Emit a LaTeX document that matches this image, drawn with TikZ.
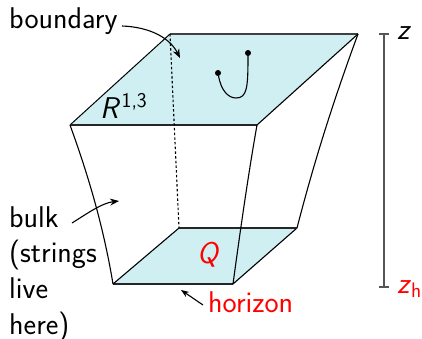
\documentclass[tikz,border=0pt]{standalone}
\usepackage{fontspec}
\usetikzlibrary{arrows.meta}
\definecolor{sheet}{HTML}{CFEFF2}
\definecolor{axisgray}{HTML}{555555}
\tikzset{
 edge/.style={black,line width=1.1pt},
 lbl/.style={inner sep=0pt,anchor=base west,font=\sffamily\fontsize{30}{36}\selectfont},
 redlbl/.style={lbl,red},
 pointer/.style={black,line width=1.1pt,-{Stealth[length=9pt,width=7pt]}},
 axisline/.style={axisgray,line width=1.5pt},
 endpt/.style={circle,fill=black,inner sep=0pt,minimum size=6pt},
}
\begin{document}
\begin{tikzpicture}[x=1pt,y=-1pt]
\useasboundingbox (0,0) rectangle (422,339);
\coordinate (A) at (70,125);
\coordinate (B) at (170,34);
\coordinate (C) at (358,34);
\coordinate (D) at (257,125);
\coordinate (E) at (113,284);
\coordinate (F) at (179,228);
\coordinate (G) at (297,228);
\coordinate (H) at (233,284);
\fill[sheet] (A)--(B)--(C)--(D)--cycle;
\fill[sheet] (E)--(F)--(G)--(H)--cycle;
\draw[edge,line width=1pt] (A)--(B);
\draw[edge,black!75,line width=1.3pt] (B)--(C);
\draw[edge] (C)--(D);
\draw[edge,black!85,line width=1.2pt] (D)--(A);
\draw[edge,black!85,line width=1.2pt] (E)--(H);
\draw[edge] (E)--(F) (H)--(G);
\draw[edge,black!85,line width=1.2pt] (F)--(G);
\draw[edge] (A) .. controls (90,180) and (104,230) .. (E);
\draw[edge] (C) .. controls (330,110) and (312,170) .. (G);
\draw[edge] (D) .. controls (249,170) and (241,225) .. (H);
\draw[black,line width=1.1pt,dash pattern=on 2.5pt off 2.2pt] (B)--(F);
\node[endpt] (s1) at (218,73) {};
\node[endpt] (s2) at (248,53) {};
\draw[edge] (s1) .. controls (221,90) and (228,98) .. (236,98) .. controls (247,98) and (248,88) .. (s2);
\coordinate (zt) at (384,34);
\coordinate (zb) at (384,287);
\draw[axisline] (zt)--(zb);
\draw[axisline] (379,34)--(389,34) (379,287)--(389,287);
\node[lbl] (zl) at (397,40) {\textsl{z}};
\node[redlbl] (zhl) at (397,293) {\textsl{z}{\fontsize{21}{25}\selectfont\raisebox{-4.5pt}{h}}};
\node[lbl] (bd) at (9,29) {boundary};
\coordinate (bdt) at (180,58);
\draw[pointer] (122,26) .. controls (150,27) and (170,38) .. (bdt);
\node[lbl] (r) at (100,119) {\textsl{R}\kern1pt\raisebox{11pt}{\fontsize{21}{25}\selectfont 1,3}};
\node[redlbl] (q) at (197,263) {\textsl{Q}};
\node[lbl] (bk1) at (9,227) {bulk};
\node[lbl] (bk2) at (9,262) {(strings};
\node[lbl] (bk3) at (9,298) {live};
\node[lbl] (bk4) at (9,334) {here)};
\coordinate (bks) at (72,223);
\coordinate (bke) at (119,201);
\draw[pointer] (bks) .. controls (88,213) and (102,203) .. (bke);
\node[redlbl] (hz) at (208,312) {horizon};
\coordinate (hze) at (181,290);
\draw[pointer,-{Stealth[length=8pt,width=6pt]}] (203,305)--(hze);
\end{tikzpicture}
\end{document}
